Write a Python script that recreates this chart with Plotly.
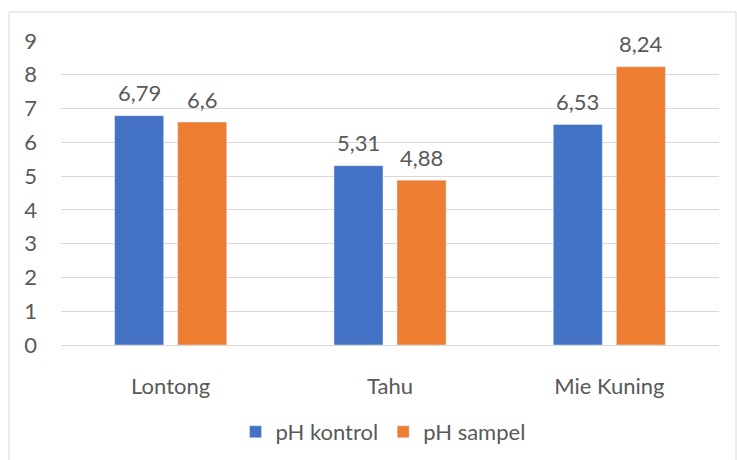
import plotly.graph_objects as go

categories = ["Lontong", "Tahu", "Mie Kuning"]
ph_kontrol = [6.79, 5.31, 6.53]
ph_sampel = [6.6, 4.88, 8.24]
y_ticks = [0, 1, 2, 3, 4, 5, 6, 7, 8, 9]

BLUE = "#4472C4"
ORANGE = "#ED7D31"
TXT = "#595959"
GRID = "#D9D9D9"
FONT = "Lato"
FS = 22

W, H = 737, 460
L, R, T, B = 61, 18, 41, 115
pw = W - L - R
ph = H - T - B
bargap = 0.425
groupgap = 0.222

def fmt(v):
    s = ("%.2f" % v).rstrip("0").rstrip(".")
    return s.replace(".", ",")

fig = go.Figure()
fig.add_trace(go.Bar(name="pH kontrol", x=categories, y=ph_kontrol, marker_color=BLUE))
fig.add_trace(go.Bar(name="pH sampel", x=categories, y=ph_sampel, marker_color=ORANGE))

cat_w = pw / len(categories)
slot = cat_w * (1 - bargap) / 2
off = slot / 2
for series, sh in ((ph_kontrol, -off), (ph_sampel, off)):
    for c, v in zip(categories, series):
        fig.add_annotation(x=c, y=v, xref="x", yref="y", text=fmt(v), showarrow=False,
                           xshift=sh, yshift=23, font=dict(family=FONT, size=FS, color=TXT))

fig.add_shape(type="rect", xref="paper", yref="paper",
              x0=(9 - L) / pw, x1=(736 - L) / pw, y0=(T + ph - 470) / ph, y1=(T + ph - 12) / ph,
              line=dict(color=GRID, width=1), fillcolor="rgba(0,0,0,0)", layer="below")

fig.update_layout(
    width=W, height=H,
    margin=dict(l=L, r=R, t=T, b=B, autoexpand=False),
    paper_bgcolor="white", plot_bgcolor="white",
    barmode="group", bargap=bargap, bargroupgap=groupgap,
    font=dict(family=FONT, size=FS, color=TXT),
    showlegend=True,
    legend=dict(orientation="h", x=(383 - L) / pw, xanchor="center", y=(T + ph - 432) / ph, yanchor="middle",
                font=dict(family=FONT, size=FS, color=TXT), itemwidth=30, traceorder="normal"),
    xaxis=dict(showgrid=False, showline=True, linecolor=GRID, linewidth=1, ticks="", automargin=False,
               ticklabelstandoff=22, tickfont=dict(family=FONT, size=FS, color=TXT)),
    yaxis=dict(range=[0, 9], tickvals=y_ticks, showgrid=True, gridcolor=GRID, gridwidth=1, automargin=False,
               zeroline=False, showline=False, ticks="", ticklabelstandoff=23,
               tickfont=dict(family=FONT, size=FS, color=TXT)),
)

fig.write_html("out.html", config={"displayModeBar": False},
               post_script="document.body.style.margin='0';document.body.style.padding='0';document.body.style.overflow='hidden';")
